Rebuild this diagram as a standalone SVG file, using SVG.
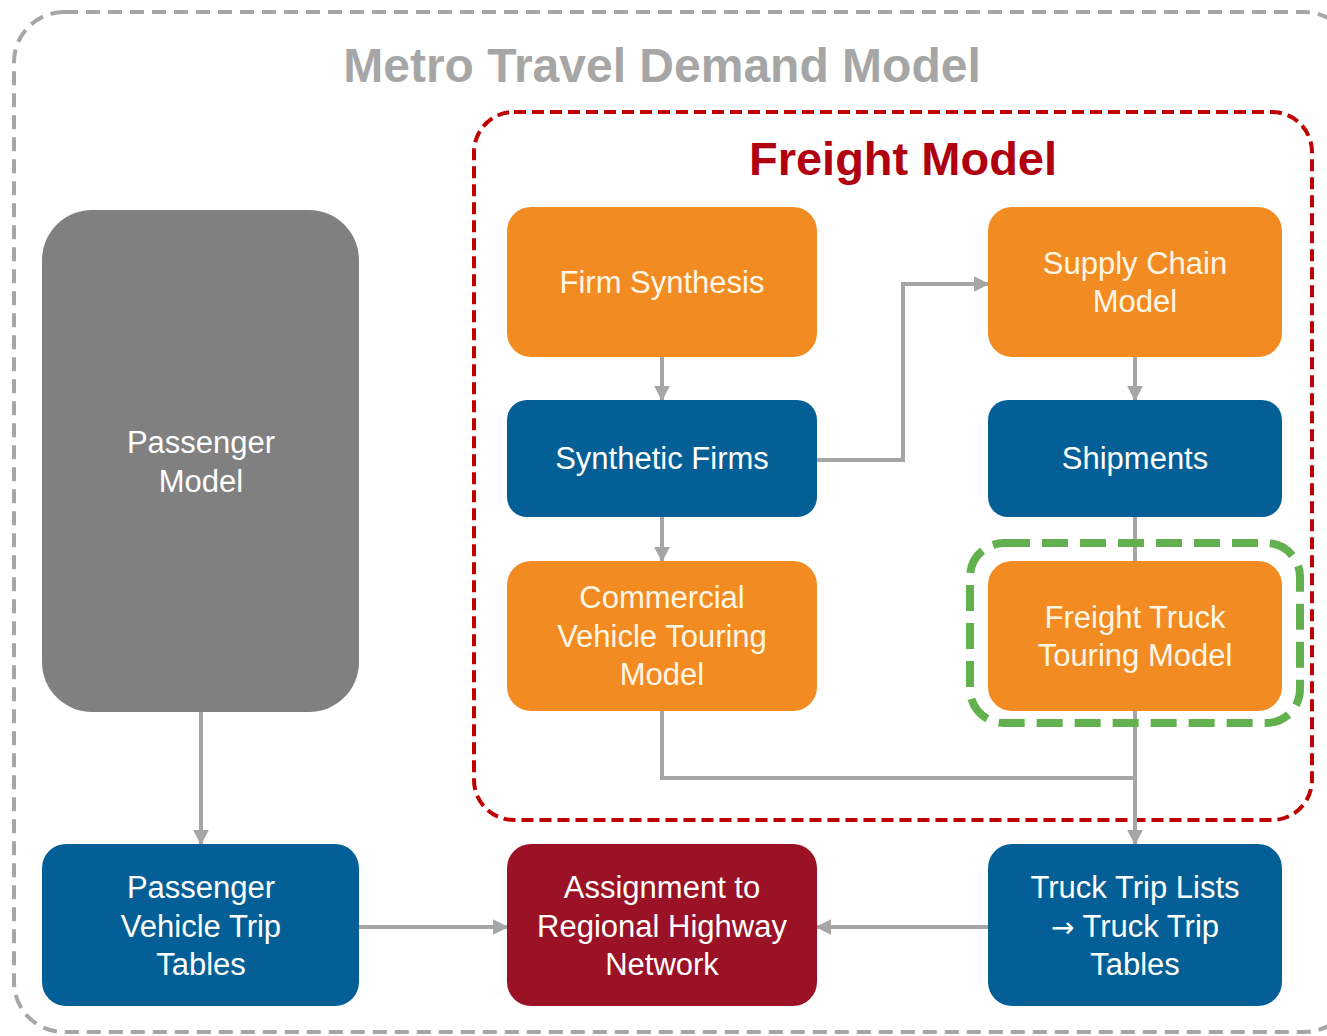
<svg xmlns="http://www.w3.org/2000/svg" width="1327" height="1036" viewBox="0 0 1327 1036">
<defs>
<marker id="ah" viewBox="0 0 10 10" refX="9" refY="5" markerWidth="4" markerHeight="4" orient="auto" markerUnits="strokeWidth">
<path d="M0,0 L10,5 L0,10 z" fill="#a6a6a6"/>
</marker>
</defs>
<style>
.t{font-family:"Liberation Sans",Arial,sans-serif;font-size:31px;fill:#ffffff;text-anchor:middle}
.to{fill:#fff6e6}
.orange{fill:#f28c22}
.blue{fill:#035f95}
.gray{fill:#808080}
.red{fill:#9b1227}
.c{fill:none;stroke:#a6a6a6;stroke-width:4}
</style>
<rect x="0" y="0" width="1327" height="1036" fill="#ffffff"/>
<rect id="outer" x="14" y="12" width="1340" height="1020" rx="50" fill="none" stroke="#a6a6a6" stroke-width="4" stroke-dasharray="14 8"/>
<text x="662" y="82" style="font-family:'Liberation Sans',Arial,sans-serif;font-size:48px;font-weight:bold;fill:#a6a6a6;text-anchor:middle">Metro Travel Demand Model</text>
<rect id="freight" x="474" y="112" width="838" height="708" rx="40" fill="none" stroke="#c00000" stroke-width="4" stroke-dasharray="12 6"/>
<text x="903" y="175" style="font-family:'Liberation Sans',Arial,sans-serif;font-size:47px;font-weight:bold;fill:#b00010;text-anchor:middle">Freight Model</text>

<g id="connectors">
<line class="c" x1="662" y1="357" x2="662" y2="400" marker-end="url(#ah)"/>
<line class="c" x1="662" y1="517" x2="662" y2="561" marker-end="url(#ah)"/>
<polyline class="c" points="817,460 903,460 903,284 988,284" marker-end="url(#ah)"/>
<line class="c" x1="1135" y1="357" x2="1135" y2="400" marker-end="url(#ah)"/>
<line class="c" x1="1135" y1="517" x2="1135" y2="561"/>
<polyline class="c" points="662,711 662,778 1135,778"/>
<line class="c" x1="1135" y1="711" x2="1135" y2="844" marker-end="url(#ah)"/>
<line class="c" x1="201" y1="712" x2="201" y2="844" marker-end="url(#ah)"/>
<line class="c" x1="359" y1="927" x2="507" y2="927" marker-end="url(#ah)"/>
<line class="c" x1="988" y1="927" x2="817" y2="927" marker-end="url(#ah)"/>
</g>

<g id="passenger-model">
<rect class="gray" x="42" y="210" width="317" height="502" rx="50"/>
<text class="t" x="201" y="453">Passenger</text>
<text class="t" x="201" y="492">Model</text>
</g>
<g id="firm-synthesis">
<rect class="orange" x="507" y="207" width="310" height="150" rx="24"/>
<text class="t to" x="662" y="293">Firm Synthesis</text>
</g>
<g id="synthetic-firms">
<rect class="blue" x="507" y="400" width="310" height="117" rx="20"/>
<text class="t" x="662" y="469">Synthetic Firms</text>
</g>
<g id="commercial-vehicle">
<rect class="orange" x="507" y="561" width="310" height="150" rx="24"/>
<text class="t to" x="662" y="608">Commercial</text>
<text class="t to" x="662" y="647">Vehicle Touring</text>
<text class="t to" x="662" y="685">Model</text>
</g>
<g id="supply-chain">
<rect class="orange" x="988" y="207" width="294" height="150" rx="24"/>
<text class="t to" x="1135" y="274">Supply Chain</text>
<text class="t to" x="1135" y="312">Model</text>
</g>
<g id="shipments">
<rect class="blue" x="988" y="400" width="294" height="117" rx="20"/>
<text class="t" x="1135" y="469">Shipments</text>
</g>
<g id="freight-truck">
<rect x="970" y="543" width="330" height="180" rx="34" fill="none" stroke="#62b04e" stroke-width="8" stroke-dasharray="26 12"/>
<rect class="orange" x="988" y="561" width="294" height="150" rx="24"/>
<text class="t to" x="1135" y="628">Freight Truck</text>
<text class="t to" x="1135" y="666">Touring Model</text>
</g>
<g id="passenger-trip-tables">
<rect class="blue" x="42" y="844" width="317" height="162" rx="24"/>
<text class="t" x="201" y="898">Passenger</text>
<text class="t" x="201" y="937">Vehicle Trip</text>
<text class="t" x="201" y="975">Tables</text>
</g>
<g id="assignment">
<rect class="red" x="507" y="844" width="310" height="162" rx="24"/>
<text class="t" x="662" y="898">Assignment to</text>
<text class="t" x="662" y="937">Regional Highway</text>
<text class="t" x="662" y="975">Network</text>
</g>
<g id="truck-trip">
<rect class="blue" x="988" y="844" width="294" height="162" rx="24"/>
<text class="t" x="1135" y="898">Truck Trip Lists</text>
<text class="t" x="1135" y="937"><tspan style="font-family:'DejaVu Sans',sans-serif;font-size:28px">→</tspan> Truck Trip</text>
<text class="t" x="1135" y="975">Tables</text>
</g>
</svg>
